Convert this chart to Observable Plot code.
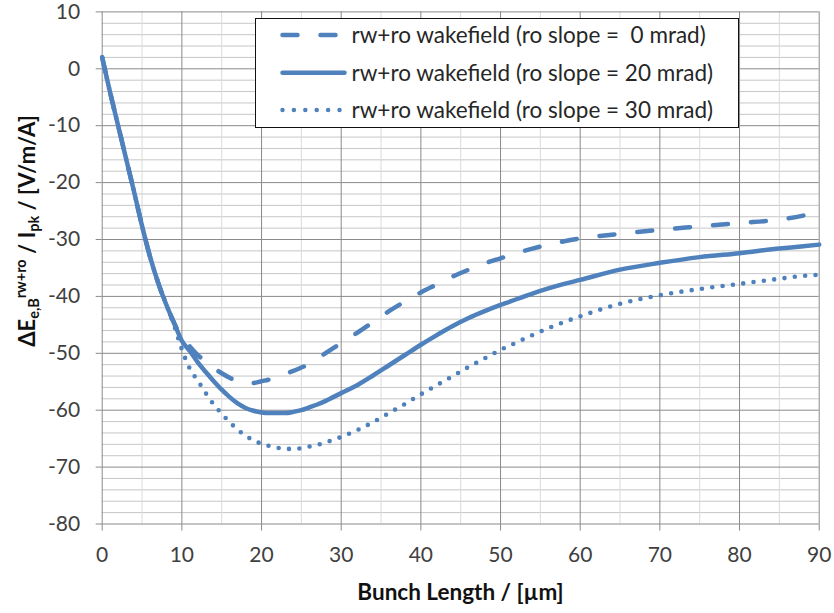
<!DOCTYPE html>
<html><head><meta charset="utf-8">
<script src="https://cdn.jsdelivr.net/npm/d3@7"></script>
<script src="https://cdn.jsdelivr.net/npm/@observablehq/plot@0.6"></script>
<style>body{margin:0;background:#fff} svg{display:block}</style>
</head><body><div id="chart"></div>
<script>
// ---- data ----
const bunchLength = [0,1,2,3,4,5,6,7,8,9,10,11,12,13,14,15,16,17,18,19,20,21,22,23,24,25,26,27,28,29,30,32,34,36,38,40,42,44,46,48,50,52,54,56,58,60,65,70,75,80,85,88,90];
const slope0  = [2,-4.2,-10,-15.8,-21.6,-27.6,-33,-37.5,-41.3,-44.6,-47.3,-48.8,-50.3,-51.5,-52.6,-53.5,-54.3,-54.9,-55.2,-55.2,-54.9,-54.6,-54.2,-53.6,-53.1,-52.5,-51.9,-51,-50,-49.1,-48.2,-46.4,-44.5,-42.6,-40.9,-39.3,-37.9,-36.5,-35.3,-34.2,-33.3,-32.4,-31.6,-30.9,-30.3,-29.8,-29,-28.3,-27.7,-27.1,-26.5,-25.8,-25.2];
const slope20 = [2,-4.2,-10,-15.8,-21.6,-27.6,-33,-37.5,-41.3,-44.6,-47.8,-49.6,-51.6,-53.3,-54.9,-56.4,-57.7,-58.8,-59.6,-60.1,-60.4,-60.5,-60.5,-60.5,-60.3,-60,-59.5,-59,-58.4,-57.7,-57,-55.6,-53.9,-52.1,-50.3,-48.5,-46.8,-45.2,-43.8,-42.6,-41.5,-40.5,-39.5,-38.6,-37.8,-37.1,-35.3,-34.1,-33.1,-32.4,-31.6,-31.2,-30.9];
const slope30 = [2,-4.2,-10,-15.8,-21.6,-27.6,-33,-37.5,-41.3,-45,-49.3,-52.7,-54.8,-57,-59,-60.6,-62.1,-63.4,-64.5,-65.3,-65.9,-66.3,-66.6,-66.8,-66.8,-66.7,-66.4,-66.1,-65.7,-65.2,-64.7,-63.5,-62.1,-60.5,-58.9,-57.2,-55.6,-54,-52.4,-50.9,-49.4,-48.1,-46.8,-45.6,-44.5,-43.5,-41.3,-39.8,-38.7,-37.8,-36.9,-36.4,-36.2];
const seriesNames = ["rw+ro wakefield (ro slope =  0 mrad)", "rw+ro wakefield (ro slope = 20 mrad)", "rw+ro wakefield (ro slope = 30 mrad)"];
const xTicks = [0,10,20,30,40,50,60,70,80,90];
const yTicks = [10,0,-10,-20,-30,-40,-50,-60,-70,-80];
const xMinor = [5,15,25,35,45,55,65,75,85];
const yMinor = [8,6,4,2,-2,-4,-6,-8,-12,-14,-16,-18,-22,-24,-26,-28,-32,-34,-36,-38,-42,-44,-46,-48,-52,-54,-56,-58,-62,-64,-66,-68,-72,-74,-76,-78];
const xTitle = "Bunch Length / [µm]";

// ---- styles ----
const blue = "#4f81bd";
const dashes = ["15,23", null, "0,10.4"];
const font = "Lato, 'Open Sans', sans-serif";

const seriesValues = [slope0, slope20, slope30];
const tables = seriesValues.map(vals => bunchLength.map((x, i) => ({x, y: vals[i]})));

const lineMarks = tables.map((t, k) => Plot.line(t, {
  x: "x", y: "y", stroke: blue, strokeWidth: k === 2 ? 4.6 : 4.5,
  strokeDasharray: dashes[k], strokeLinecap: "round", strokeLinejoin: "round", curve: "monotone-x"
}));

const fmt = d => String(d);

const chart = Plot.plot({
  width: 834, height: 613,
  marginLeft: 101.7, marginRight: 15.3, marginTop: 11.4, marginBottom: 89.5,
  style: {fontFamily: font, fontSize: "21px", color: "#404040", background: "#fff", overflow: "visible"},
  x: {domain: [0, 90]},
  y: {domain: [-80, 10]},
  marks: [
    Plot.ruleY(yMinor, {stroke: "#c6c6c6", strokeWidth: 1}),
    Plot.ruleX(xMinor, {stroke: "#dadada", strokeWidth: 1}),
    Plot.ruleY(yTicks, {stroke: "#8a8a8a", strokeWidth: 1}),
    Plot.ruleX(xTicks, {stroke: "#8a8a8a", strokeWidth: 1}),
    Plot.axisY({ticks: yTicks, tickFormat: fmt, tickSize: 6, tickPadding: 16, stroke: "#8a8a8a", label: null, fontSize: 21}),
    Plot.axisX({ticks: xTicks, tickFormat: fmt, tickSize: 7, tickPadding: 16, stroke: "#8a8a8a", label: null, fontSize: 21}),
    ...lineMarks
  ]
});
document.getElementById("chart").appendChild(chart);

const svg = d3.select(chart);

// legend
const lg = svg.append("g").attr("font-family", font).attr("font-size", 22.5).attr("fill", "#262626")
  .attr("text-anchor", "start");
lg.append("rect").attr("x", 255.5).attr("y", 18.5).attr("width", 483).attr("height", 109)
  .attr("fill", "#fff").attr("stroke", "#111").attr("stroke-width", 1);
const rowsY = [35, 72.7, 110];
seriesNames.forEach((name, k) => {
  const ln = lg.append("line").attr("x1", 282.5).attr("x2", 344.5).attr("y1", rowsY[k]).attr("y2", rowsY[k])
    .attr("stroke", blue).attr("stroke-width", 4.5).attr("stroke-linecap", "round");
  if (dashes[k]) ln.attr("stroke-dasharray", k === 0 ? "15,23" : "0,11.4");
  lg.append("text").attr("x", 351.5).attr("y", rowsY[k] + 8.3).attr("text-anchor", "start")
    .style("white-space", "pre").text(name);
});

// x title
svg.append("text").attr("x", 460.5).attr("y", 600).attr("text-anchor", "middle")
  .attr("font-family", font).attr("font-weight", "bold").attr("font-size", 22.5).attr("fill", "#111")
  .text(xTitle);

// y title with sub/superscripts
const yt = svg.append("text").attr("transform", "translate(35,231) rotate(-90)")
  .attr("text-anchor", "middle").attr("font-family", font).attr("font-weight", "bold")
  .attr("font-size", 22).attr("fill", "#111");
yt.append("tspan").text("ΔE");
yt.append("tspan").attr("font-size", 14.5).attr("dy", 4).text("e,B");
yt.append("tspan").attr("font-size", 14.5).attr("dy", -13.5).text("rw+ro");
yt.append("tspan").attr("dy", 9.5).text(" / I");
yt.append("tspan").attr("font-size", 14.5).attr("dy", 4).text("pk");
yt.append("tspan").attr("dy", -4).text(" / [V/m/A]");
</script>
</body></html>
